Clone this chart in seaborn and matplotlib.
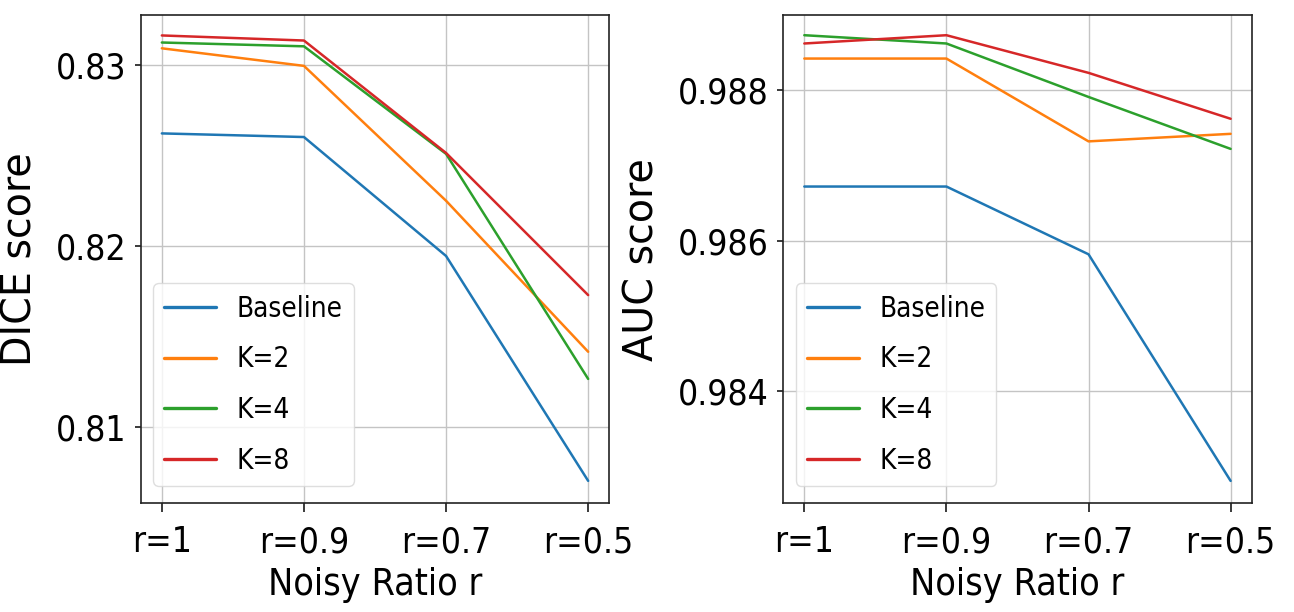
import pandas as pd
import matplotlib
matplotlib.use("Agg")
import matplotlib.pyplot as plt
import seaborn as sns

# === Data ===
ratios = ["r=1", "r=0.9", "r=0.7", "r=0.5"]
methods = ["Baseline", "K=2", "K=4", "K=8"]

dice_baseline = [0.82623, 0.82603, 0.81946, 0.80704]
dice_k2 = [0.83093, 0.82996, 0.82251, 0.81417]
dice_k4 = [0.83125, 0.83104, 0.82510, 0.81267]
dice_k8 = [0.83164, 0.83136, 0.82515, 0.81730]

auc_baseline = [0.98672, 0.98672, 0.98582, 0.98281]
auc_k2 = [0.98842, 0.98842, 0.98732, 0.98742]
auc_k4 = [0.98873, 0.98862, 0.98791, 0.98722]
auc_k8 = [0.98862, 0.98873, 0.98823, 0.98762]


def to_long(series_list, value_name):
    rows = []
    for name, vals in zip(methods, series_list):
        for r, v in zip(ratios, vals):
            rows.append({"Ratio": r, "Method": name, value_name: v})
    return pd.DataFrame(rows)


dice_df = to_long([dice_baseline, dice_k2, dice_k4, dice_k8], "DICE")
auc_df = to_long([auc_baseline, auc_k2, auc_k4, auc_k8], "AUC")

# === Style ===
sns.set_theme(style="ticks", rc={
    "axes.grid": True,
    "grid.color": "#c4c4c4",
    "grid.linewidth": 1.0,
    "axes.edgecolor": "#222222",
    "axes.linewidth": 1.2,
    "xtick.major.size": 6.5,
    "ytick.major.size": 4,
    "xtick.major.pad": 9,
    "ytick.major.pad": 6,
    "text.color": "black",
    "axes.labelcolor": "black",
    "xtick.color": "#222222",
    "ytick.color": "#222222",
})
plt.rcParams["font.family"] = ["DejaVu Sans"]
plt.rcParams["font.stretch"] = "condensed"

palette = sns.color_palette("tab10", 4)

fig = plt.figure(figsize=(12.94, 6.12), dpi=100)
ax1 = fig.add_axes([0.1086, 0.1773, 0.3624, 0.7985])
ax2 = fig.add_axes([0.6051, 0.1773, 0.3624, 0.7985])

panels = [
    (ax1, dice_df, "DICE", "DICE score", (0.80579, 0.83278), [0.81, 0.82, 0.83], "{:.2f}"),
    (ax2, auc_df, "AUC", "AUC score", (0.98251, 0.989001), [0.984, 0.986, 0.988], "{:.3f}"),
]

for ax, df, col, ylab, ylim, yticks, fmt in panels:
    sns.lineplot(data=df, x="Ratio", y=col, hue="Method", hue_order=methods,
                 palette=palette, linewidth=1.8, sort=False, ax=ax)
    ax.set_ylim(*ylim)
    ax.set_yticks(yticks)
    ax.set_yticklabels([fmt.format(t) for t in yticks])
    ax.tick_params(axis="both", labelsize=25.5, labelcolor="black")
    ax.set_xlabel("Noisy Ratio r", fontsize=27, labelpad=6)
    ax.set_ylabel(ylab, fontsize=28.5, fontstretch="normal", labelpad=11)
    leg = ax.legend(loc="lower left", bbox_to_anchor=(0.0267, 0.0358),
                    borderaxespad=0, fontsize=20, framealpha=0.8,
                    handlelength=1.87, handletextpad=0.74, labelspacing=0.82)
    leg.get_frame().set_edgecolor("#d6d6d6")
    for line in leg.get_lines():
        line.set_linewidth(2.4)

fig.savefig("out.png", dpi=100)
